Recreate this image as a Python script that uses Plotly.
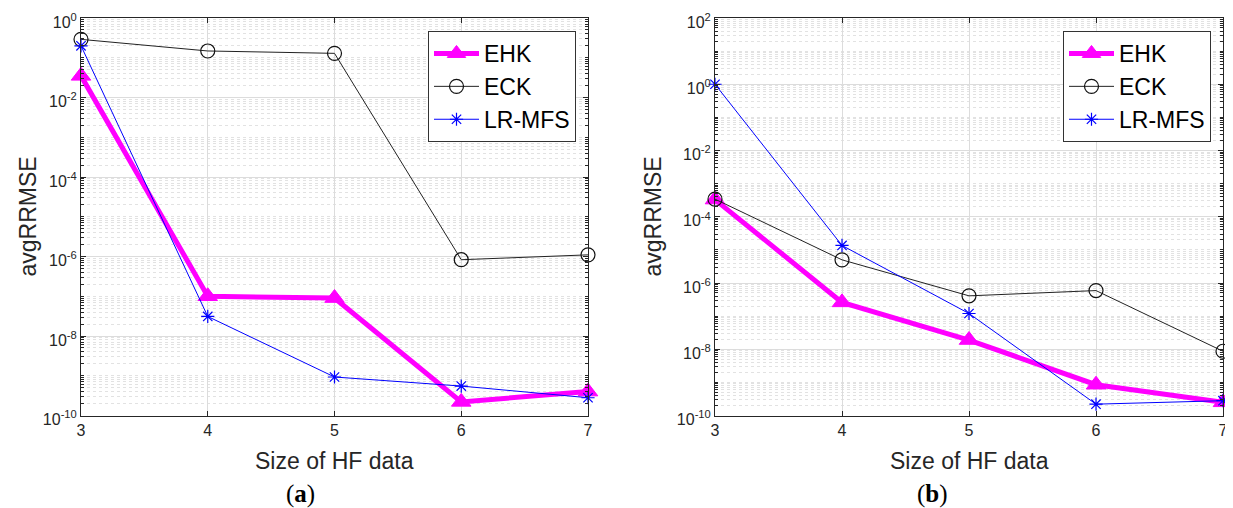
import plotly.graph_objects as go

# ---------------- data ----------------
hf_size = [3, 4, 5, 6, 7]

# panel (a)
a_ehk = [3.5e-2, 1.0e-7, 9.0e-8, 2.2e-10, 4.0e-10]
a_eck = [2.9e-1, 1.48e-1, 1.29e-1, 8.3e-7, 1.1e-6]
a_lrmfs = [2.0e-1, 3.1e-8, 9.3e-10, 5.5e-10, 2.8e-10]

# panel (b)
b_ehk = [3.3e-4, 2.6e-7, 1.9e-8, 8.5e-10, 2.5e-10]
b_eck = [3.4e-4, 5.0e-6, 4.1e-7, 5.9e-7, 8.7e-9]
b_lrmfs = [1.0, 1.36e-5, 1.2e-7, 2.2e-10, 2.8e-10]

series_names = ["EHK", "ECK", "LR-MFS"]
a_ticks = [1e-10, 1e-8, 1e-6, 1e-4, 1e-2, 1e0]
a_ticktext = ["10<sup>-10</sup>", "10<sup>-8</sup>", "10<sup>-6</sup>",
              "10<sup>-4</sup>", "10<sup>-2</sup>", "10<sup>0</sup>"]
b_ticks = [1e-10, 1e-8, 1e-6, 1e-4, 1e-2, 1e0, 1e2]
b_ticktext = ["10<sup>-10</sup>", "10<sup>-8</sup>", "10<sup>-6</sup>",
              "10<sup>-4</sup>", "10<sup>-2</sup>", "10<sup>0</sup>", "10<sup>2</sup>"]

# ---------------- figure ----------------
OFF = 8                       # page body margin of the browser
W, H = 1233 - OFF, 508 - OFF
FONT = "Liberation Sans, Arial, sans-serif"
AX = "#262626"

def px(x):
    return (x - OFF) / W

def py(y):
    return 1 - (y - OFF) / H

styles = {
    "EHK": dict(line=dict(color="#FF00FF", width=5),
                marker=dict(symbol="triangle-up", size=17, color="#FF00FF",
                            line=dict(color="#FF00FF", width=1))),
    "ECK": dict(line=dict(color="#222222", width=1),
                marker=dict(symbol="circle-open", size=14, color="#111111",
                            line=dict(width=1.2))),
    "LR-MFS": dict(line=dict(color="#0000FF", width=1),
                   marker=dict(symbol="asterisk-open", size=11, color="#0000FF",
                               line=dict(color="#0000FF", width=1.2))),
}

fig = go.Figure()

panels = [
    ("x", "y", "legend", [a_ehk, a_eck, a_lrmfs]),
    ("x2", "y2", "legend2", [b_ehk, b_eck, b_lrmfs]),
]
for xa, ya, lg, vals in panels:
    for name, v in zip(series_names, vals):
        fig.add_trace(go.Scatter(
            x=hf_size, y=v, name=name, mode="lines+markers",
            xaxis=xa, yaxis=ya, legend=lg, cliponaxis=False, **styles[name]))

common_x = dict(
    range=[3, 7], dtick=1, tick0=3, showgrid=True, gridcolor="#dcdcdc",
    gridwidth=1, showline=True, mirror="allticks", linecolor=AX, linewidth=1,
    ticks="inside", ticklen=5, tickcolor=AX, zeroline=False, automargin=False,
    ticklabeloverflow="allow",
    tickfont=dict(family=FONT, size=16, color=AX),
)
minor = dict(dtick="D1", ticks="inside", ticklen=3, tickcolor=AX,
             showgrid=True, gridcolor="#e2e2e2", griddash="dot", gridwidth=1)
common_y = dict(
    type="log", tickmode="array", showgrid=True, gridcolor="#dcdcdc",
    showline=True, mirror="allticks", linecolor=AX, linewidth=1,
    ticks="inside", ticklen=5, tickcolor=AX, zeroline=False, minor=minor,
    automargin=False, ticklabeloverflow="allow", ticklabelshift=4,
    tickfont=dict(family=FONT, size=16, color=AX),
)

y_top, y_bot = py(18), py(415.5)

fig.update_layout(
    width=W, height=H, margin=dict(l=0, r=0, t=0, b=0, autoexpand=False),
    paper_bgcolor="white", plot_bgcolor="white",
    font=dict(family=FONT, color=AX),
    xaxis=dict(domain=[px(81), px(588)], anchor="y", **common_x),
    yaxis=dict(domain=[y_bot, y_top], anchor="x", range=[-10, 0],
               tickvals=a_ticks, ticktext=a_ticktext, **common_y),
    xaxis2=dict(domain=[px(715), px(1223)], anchor="y2", **common_x),
    yaxis2=dict(domain=[y_bot, y_top], anchor="x2", range=[-10, 2],
                tickvals=b_ticks, ticktext=b_ticktext, **common_y),
    legend=dict(x=px(428), y=py(31), xanchor="left", yanchor="top",
                bgcolor="white", bordercolor="#333333", borderwidth=1,
                font=dict(family=FONT, size=23, color="black"),
                itemwidth=45, tracegroupgap=0),
    legend2=dict(x=px(1063), y=py(31), xanchor="left", yanchor="top",
                 bgcolor="white", bordercolor="#333333", borderwidth=1,
                 font=dict(family=FONT, size=23, color="black"),
                 itemwidth=45, tracegroupgap=0),
    showlegend=True,
)

annots = [
    dict(text="avgRRMSE", x=px(27), y=py(216.5), textangle=-90),
    dict(text="avgRRMSE", x=px(652), y=py(216.5), textangle=-90),
    dict(text="Size of HF data", x=px(334), y=py(461)),
    dict(text="Size of HF data", x=px(969), y=py(461)),
]
for a in annots:
    fig.add_annotation(xref="paper", yref="paper", showarrow=False,
                       xanchor="center", yanchor="middle",
                       font=dict(family=FONT, size=23, color=AX), **a)

for lab, xc in [("a", 300), ("b", 932)]:
    fig.add_annotation(xref="paper", yref="paper", showarrow=False,
                       x=px(xc), y=py(494), xanchor="center", yanchor="middle",
                       text=f"(<b>{lab}</b>)",
                       font=dict(family="Liberation Serif, serif", size=25, color="black"))

fig.write_html("out.html")
